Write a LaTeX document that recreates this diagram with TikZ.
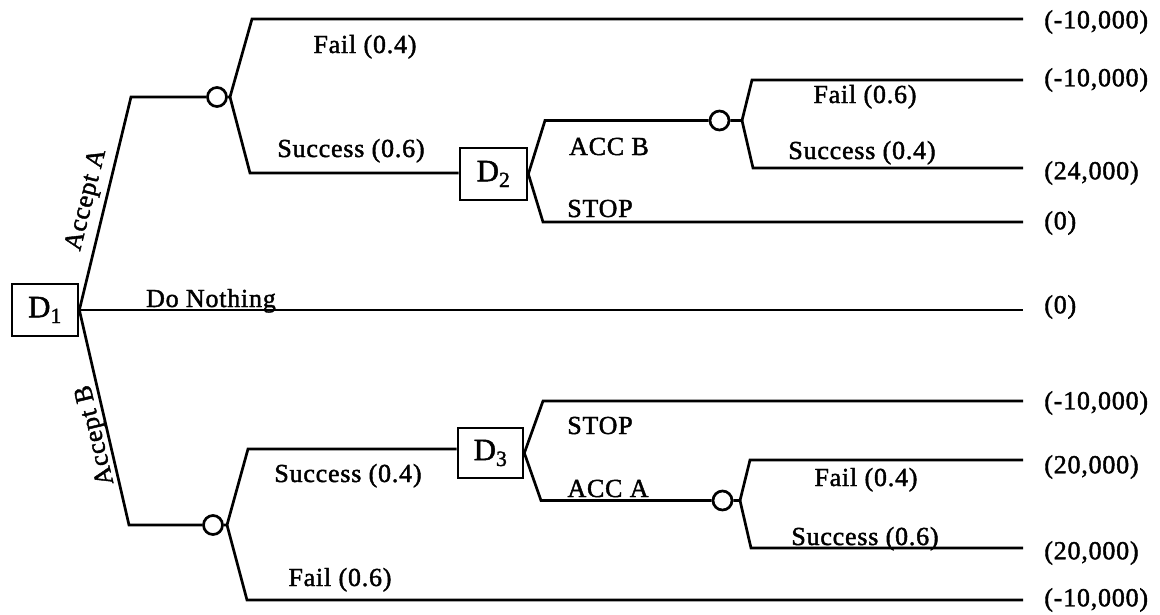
\documentclass[tikz,border=0pt]{standalone}
\usepackage{fontspec}
\setmainfont{Liberation Serif}
\newfontfamily\lblfont[FakeBold=1.6,LetterSpace=3]{Liberation Serif}
\begin{document}
\begin{tikzpicture}[x=1pt,y=-1pt, line width=2.7pt, line join=miter,
  dec/.style={draw, rectangle, inner sep=0pt, font=\lblfont\fontsize{31}{31}\selectfont},
  chance/.style={draw, circle, inner sep=0pt, minimum size=19pt},
  lbl/.style={font=\lblfont\fontsize{26}{30}\selectfont, inner sep=0pt},
  lb/.style={lbl, anchor=base},
  val/.style={lbl, anchor=west}]
\useasboundingbox (0,0) rectangle (1160,614);
% decision nodes
\node[dec, minimum width=66pt, minimum height=52pt] (D1) at (45,310) {D\textsubscript{1}};
\node[dec, minimum width=67pt, minimum height=52pt] (D2) at (493.5,174) {D\textsubscript{2}};
\node[dec, minimum width=65pt, minimum height=50pt] (D3) at (490.5,453) {D\textsubscript{3}};
% chance nodes
\node[chance] (C1) at (217,97) {};
\node[chance] (C2) at (719.5,120.5) {};
\node[chance] (C3) at (213,525) {};
\node[chance] (C4) at (722.5,500.5) {};
% corner coordinates
\coordinate (a1) at (131,97);
\coordinate (c1b) at (230,97);
\coordinate (a2) at (252,19);
\coordinate (a3) at (250,173);
\coordinate (b1) at (545,120.5);
\coordinate (b2) at (543,222);
\coordinate (c2b) at (742,120.5);
\coordinate (c1) at (752,80);
\coordinate (c2) at (753,168);
\coordinate (d1) at (129,525);
\coordinate (c3b) at (227,525);
\coordinate (d2) at (248,449);
\coordinate (d3) at (247,600);
\coordinate (f1) at (543,401);
\coordinate (f2) at (541,500.5);
\coordinate (c4b) at (740,500.5);
\coordinate (g1) at (750,460);
\coordinate (g2) at (751,548);
% end coordinates
\coordinate (e1) at (1023,19);
\coordinate (e2) at (1023,80);
\coordinate (e3) at (1023,168);
\coordinate (e4) at (1023,222);
\coordinate (e5) at (1023,310);
\coordinate (e6) at (1023,401);
\coordinate (e7) at (1023,460);
\coordinate (e8) at (1023,548);
\coordinate (e9) at (1023,600);
% branches
\draw (D1.east) -- (a1) -- (C1.west);
\draw (C1.east) -- (c1b) -- (a2) -- (e1);
\draw (c1b) -- (a3) -- (a3 -| D2.west);
\draw (D2.east) -- (b1) -- (C2.west);
\draw (D2.east) -- (b2) -- (e4);
\draw (C2.east) -- (c2b) -- (c1) -- (e2);
\draw (c2b) -- (c2) -- (e3);
\draw (D1.east) -- (e5);
\draw (D1.east) -- (d1) -- (C3.west);
\draw (C3.east) -- (c3b) -- (d2) -- (d2 -| D3.west);
\draw (c3b) -- (d3) -- (e9);
\draw (D3.east) -- (f1) -- (e6);
\draw (D3.east) -- (f2) -- (C4.west);
\draw (C4.east) -- (c4b) -- (g1) -- (e7);
\draw (c4b) -- (g2) -- (e8);
% branch labels
\node[lbl, rotate=75.8] (lA) at (87,200) {Accept A};
\node[lbl, rotate=103.4] (lB) at (96,435) {Accept B};
\node[lb] (l1) at (211,307) {Do Nothing};
\node[lb] (l2) at (365,53) {Fail (0.4)};
\node[lb] (l3) at (351,157) {Success (0.6)};
\node[lb] (l4) at (609,155) {ACC B};
\node[lb] (l5) at (600,217) {STOP};
\node[lb] (l6) at (865,103) {Fail (0.6)};
\node[lb] (l7) at (862,159) {Success (0.4)};
\node[lb] (l8) at (600,434) {STOP};
\node[lb] (l9) at (608,497) {ACC A};
\node[lb] (l10) at (866,486) {Fail (0.4)};
\node[lb] (l11) at (865,545) {Success (0.6)};
\node[lb] (l12) at (348,482) {Success (0.4)};
\node[lb] (l13) at (340,586) {Fail (0.6)};
% payoffs
\node[val] (v1) at (1043,22) {(-10,000)};
\node[val] (v2) at (1043,80) {(-10,000)};
\node[val] (v3) at (1043,173) {(24,000)};
\node[val] (v4) at (1043,223) {(0)};
\node[val] (v5) at (1043,307) {(0)};
\node[val] (v6) at (1043,403) {(-10,000)};
\node[val] (v7) at (1043,467) {(20,000)};
\node[val] (v8) at (1043,553) {(20,000)};
\node[val] (v9) at (1043,600) {(-10,000)};
\end{tikzpicture}
\end{document}
